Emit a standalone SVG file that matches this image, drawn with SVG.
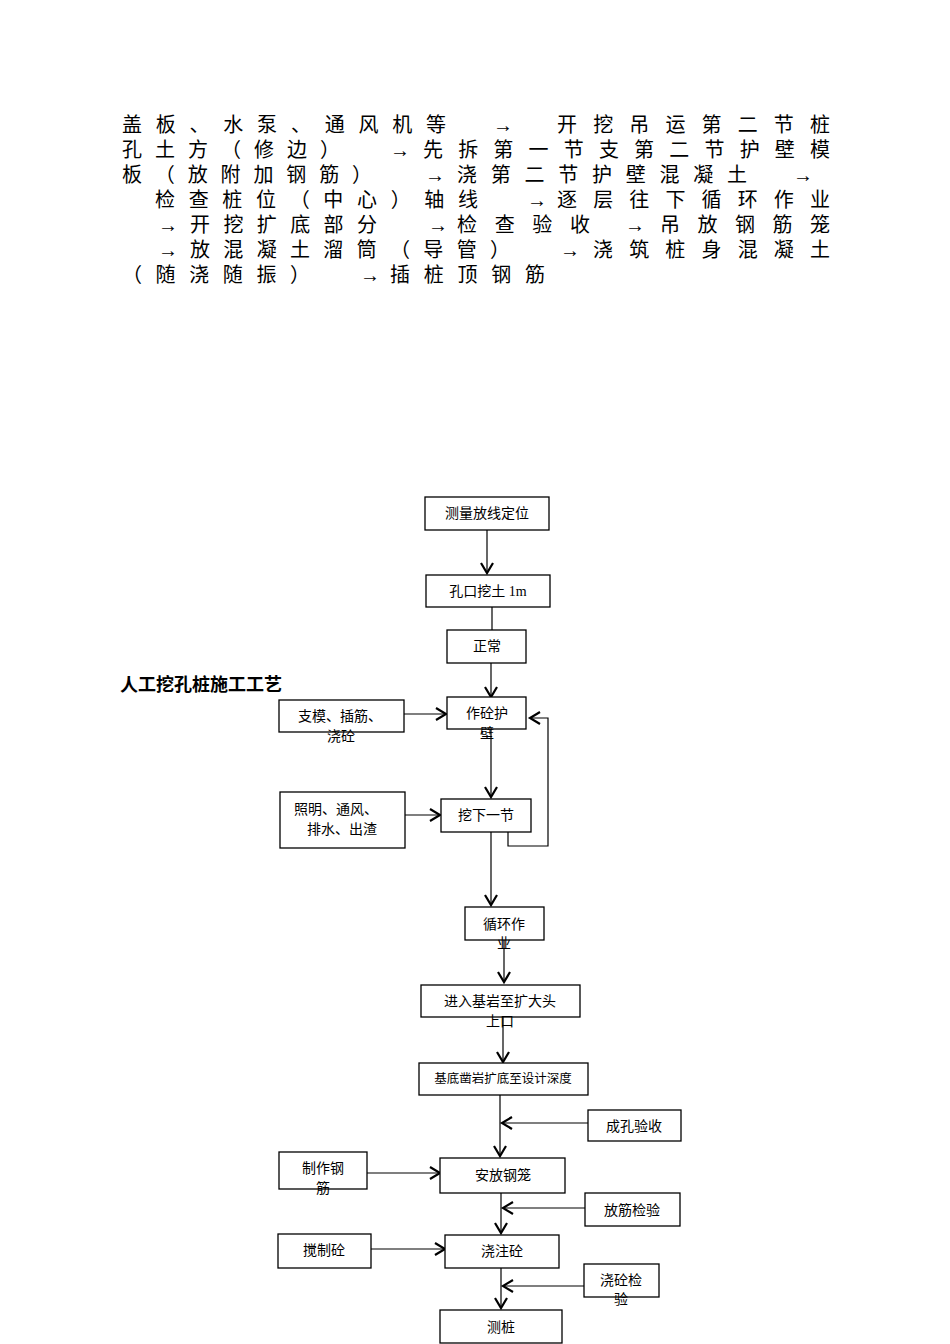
<svg xmlns="http://www.w3.org/2000/svg" width="950" height="1344" viewBox="0 0 950 1344">
<style>
.p{font-family:"Liberation Serif","Noto Sans CJK SC",serif;font-size:20px;fill:#000}
.t{font-family:"Liberation Serif","Noto Sans CJK SC",serif;font-size:14px;fill:#000;text-anchor:middle}
.s{font-size:12.5px}
.b{fill:#fff;stroke:#000;stroke-width:1.3}
.c{stroke:#000;stroke-width:1.2;fill:none}
.a{marker-end:url(#ah)}
</style>
<defs><marker id="ah" markerUnits="userSpaceOnUse" markerWidth="14" markerHeight="16" refX="11" refY="7" orient="auto"><path d="M1,1 L11,7 L1,13" fill="none" stroke="#000" stroke-width="2.2"/></marker></defs>
<rect width="950" height="1344" fill="#fff"/>
<g id="paragraph" class="p">
<text x="122" y="132" textLength="324" lengthAdjust="spacing">盖板、水泵、通风机等</text><text x="493" y="132">→</text><text x="557" y="132" textLength="273" lengthAdjust="spacing">开挖吊运第二节桩</text>
<text x="122" y="157" textLength="218" lengthAdjust="spacing">孔土方（修边）</text><text x="390" y="157">→</text><text x="423" y="157" textLength="407" lengthAdjust="spacing">先拆第一节支第二节护壁模</text>
<text x="122" y="182" textLength="250" lengthAdjust="spacing">板（放附加钢筋）</text><text x="425" y="182">→</text><text x="457" y="182" textLength="290" lengthAdjust="spacing">浇第二节护壁混凝土</text><text x="793" y="182">→</text>
<text x="155" y="207" textLength="323" lengthAdjust="spacing">检查桩位（中心）轴线</text><text x="527" y="207">→</text><text x="557" y="207" textLength="273" lengthAdjust="spacing">逐层往下循环作业</text>
<text x="158" y="232">→</text><text x="190" y="232" textLength="187" lengthAdjust="spacing">开挖扩底部分</text><text x="428" y="232">→</text><text x="457" y="232" textLength="133" lengthAdjust="spacing">检查验收</text><text x="625" y="232">→</text><text x="660" y="232" textLength="170" lengthAdjust="spacing">吊放钢筋笼</text>
<text x="158" y="257">→</text><text x="190" y="257" textLength="320" lengthAdjust="spacing">放混凝土溜筒（导管）</text><text x="560" y="257">→</text><text x="593" y="257" textLength="237" lengthAdjust="spacing">浇筑桩身混凝土</text>
<text x="122" y="282" textLength="188" lengthAdjust="spacing">（随浇随振）</text><text x="360" y="282">→</text><text x="390" y="282" textLength="155" lengthAdjust="spacing">插桩顶钢筋</text>
</g>
<text id="title" x="120" y="691" style="font-family:'Noto Sans CJK SC',sans-serif;font-size:18px;font-weight:bold">人工挖孔桩施工工艺</text>
<g id="connectors">
<path class="c a" d="M487,530 V573"/>
<path class="c" d="M492,607 V630"/>
<path class="c a" d="M491,663 V697"/>
<path class="c a" d="M404,714 H446"/>
<path class="c a" d="M491,729 V797"/>
<path class="c a" d="M405,815 H440"/>
<path class="c a" d="M508,832 V846 H548 V718 H530"/>
<path class="c a" d="M491,832 V905"/>
<path class="c a" d="M504,940 V982"/>
<path class="c a" d="M503,1017 V1062"/>
<path class="c a" d="M500,1095 V1156"/>
<path class="c a" d="M588,1123 H502"/>
<path class="c a" d="M367,1173 H440"/>
<path class="c a" d="M501,1193 V1233"/>
<path class="c a" d="M585,1208 H503"/>
<path class="c a" d="M371,1249 H445"/>
<path class="c a" d="M501,1268 V1308"/>
<path class="c a" d="M584,1286 H503"/>
</g>
<g id="n1"><rect class="b" x="425" y="497" width="124" height="33"/><text class="t" x="487" y="518">测量放线定位</text></g>
<g id="n2"><rect class="b" x="426" y="575" width="124" height="32"/><text class="t" x="488" y="596">孔口挖土 1m</text></g>
<g id="n3"><rect class="b" x="447" y="630" width="79" height="33"/><text class="t" x="487" y="651">正常</text></g>
<g id="n4"><rect class="b" x="447" y="697" width="79" height="32"/><text class="t" x="487" y="718">作砼护</text><text class="t" x="487" y="738">壁</text></g>
<g id="n5"><rect class="b" x="279" y="700" width="125" height="32"/><text class="t" x="340" y="721">支模、插筋、</text><text class="t" x="341" y="741">浇砼</text></g>
<g id="n6"><rect class="b" x="441" y="799" width="90" height="33"/><text class="t" x="486" y="820">挖下一节</text></g>
<g id="n7"><rect class="b" x="280" y="792" width="125" height="56"/><text class="t" x="336" y="814">照明、通风、</text><text class="t" x="342" y="834">排水、出渣</text></g>
<g id="n8"><rect class="b" x="465" y="907" width="79" height="33"/><text class="t" x="504" y="929">循环作</text><text class="t" x="504" y="948">业</text></g>
<g id="n9"><rect class="b" x="421" y="985" width="159" height="32"/><text class="t" x="500" y="1006">进入基岩至扩大头</text><text class="t" x="500" y="1026">上口</text></g>
<g id="n10"><rect class="b" x="419" y="1063" width="169" height="32"/><text class="t s" x="503" y="1083">基底凿岩扩底至设计深度</text></g>
<g id="n11"><rect class="b" x="588" y="1110" width="93" height="31"/><text class="t" x="634" y="1131">成孔验收</text></g>
<g id="n12"><rect class="b" x="279" y="1152" width="88" height="37"/><text class="t" x="323" y="1173">制作钢</text><text class="t" x="323" y="1193">筋</text></g>
<g id="n13"><rect class="b" x="440" y="1158" width="125" height="35"/><text class="t" x="503" y="1180">安放钢笼</text></g>
<g id="n14"><rect class="b" x="585" y="1193" width="95" height="33"/><text class="t" x="632" y="1215">放筋检验</text></g>
<g id="n15"><rect class="b" x="278" y="1234" width="93" height="34"/><text class="t" x="324" y="1255">搅制砼</text></g>
<g id="n16"><rect class="b" x="445" y="1235" width="114" height="33"/><text class="t" x="502" y="1256">浇注砼</text></g>
<g id="n17"><rect class="b" x="584" y="1264" width="75" height="33"/><text class="t" x="621" y="1285">浇砼检</text><text class="t" x="621" y="1304">验</text></g>
<g id="n18"><rect class="b" x="440" y="1310" width="122" height="33"/><text class="t" x="501" y="1332">测桩</text></g>
</svg>
